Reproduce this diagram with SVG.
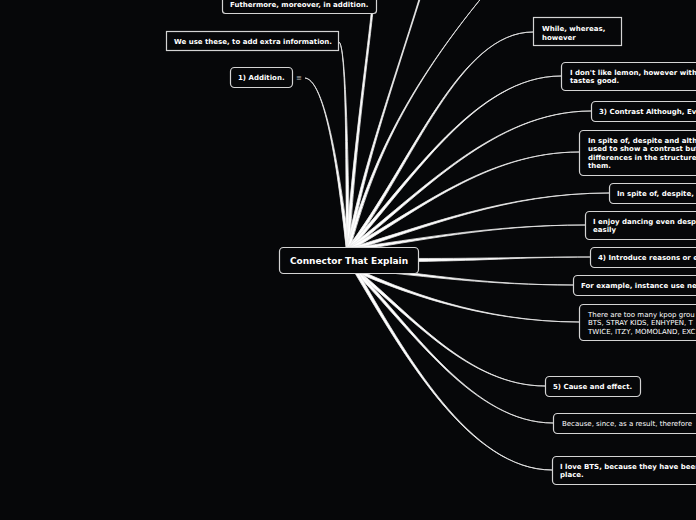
<svg xmlns="http://www.w3.org/2000/svg" width="696" height="520" viewBox="0 0 696 520">
<style>
.bg{fill:#060709}
.c{fill:#fff;stroke:#e8e8e8;stroke-width:0.8;stroke-linejoin:round}
.box{fill:#060709;stroke:#d4d4d4;stroke-width:1.2}
.t{font-family:"DejaVu Sans",Verdana,sans-serif;font-size:7px;font-weight:bold;fill:#fff}
.n{font-weight:normal}
.ct{font-family:"DejaVu Sans",Verdana,sans-serif;font-size:9px;font-weight:bold;fill:#fff}
.ic{font-family:"DejaVu Sans",sans-serif;font-size:7px;fill:#bbb}
</style>
<rect class="bg" x="0" y="0" width="696" height="520"/>
<g id="connectors">
<path class="c" d="M349.6 249.8 C343.1 199.9 328 80 305 78 C328 80 340.9 200.1 346.4 250.2 Z"/>
<path class="c" d="M349.6 250 C348.1 150 346 46 339 42 C346 46 345.9 150 346.4 250 Z"/>
<path class="c" d="M349.6 250.1 C353.1 170.1 367.7 60 372.8 13 L371.2 13 C366.3 60 350.9 169.9 346.4 249.9 Z"/>
<path class="c" d="M349.57 250.3 C366.1 160.21 395 80 427.57 -24.83 L426.43 -25.17 C395 80 363.9 159.79 346.43 249.7 Z"/>
<path class="c" d="M349.54 250.44 C373.08 165.3 405 85 505 -30 C405 85 370.92 164.7 346.46 249.56 Z"/>
<path class="c" d="M349.35 250.87 C414.94 161.61 459 32 533 32 C459 32 413.06 160.39 346.65 249.13 Z"/>
<path class="c" d="M349.18 251.08 C412.83 180.76 476 76 561 76 C476 76 411.17 179.24 346.82 248.92 Z"/>
<path class="c" d="M348.97 251.27 C421.68 194.89 494 111 591 111 C494 111 420.32 193.11 347.03 248.73 Z"/>
<path class="c" d="M348.79 251.39 C417.55 211.97 487 152 579 152 C487 152 416.45 210.03 347.21 248.61 Z"/>
<path class="c" d="M348.45 251.53 C426.32 228.07 505 193 609 193 C505 193 425.68 225.93 347.55 248.47 Z"/>
<path class="c" d="M348.22 251.58 C419.16 241.11 490 225 585 225 C490 225 418.84 238.89 347.78 248.42 Z"/>
<path class="c" d="M400 261.6 C480 261.2 520 257 590 257 C520 257 480 258.8 400 258.4 Z"/>
<path class="c" d="M359.82 269.59 C429.87 277.11 490 285 573 285 C490 285 430.13 274.89 360.18 266.41 Z"/>
<path class="c" d="M354.35 271.46 C399.55 291.02 480 322 579 322 C480 322 400.45 288.98 355.65 268.54 Z"/>
<path class="c" d="M354 271.24 C411.3 316.87 469 386 545 386 C469 386 412.7 315.13 356 268.76 Z"/>
<path class="c" d="M353.85 271.11 C413.2 331.78 474 423 553 423 C474 423 414.8 330.22 356.15 268.89 Z"/>
<path class="c" d="M353.71 270.95 C404.1 355.67 470 470 552 470 C470 470 405.9 354.33 356.29 269.05 Z"/>
</g>
<g id="center">
<rect class="box" x="279.5" y="247.5" width="139" height="26" rx="4"/>
<text class="ct" x="349" y="264.3" text-anchor="middle">Connector That Explain</text>
</g>
<g id="n-futhermore">
<rect class="box" x="222.5" y="-10" width="154" height="23.5" rx="3"/>
<text class="t" x="230" y="6.5">Futhermore, moreover, in addition.</text>
</g>
<g id="n-weuse">
<rect class="box" x="166.5" y="31.5" width="172" height="19"/>
<text class="t" x="174" y="44">We use these, to add extra information.</text>
</g>
<g id="n-addition">
<rect class="box" x="230.5" y="67.5" width="62" height="20" rx="4"/>
<text class="t" x="238" y="80">1) Addition.</text>
<text class="ic" x="296" y="80">≡</text>
</g>
<g id="n-while">
<rect class="box" x="533.5" y="17.5" width="88" height="28"/>
<text class="t" x="542" y="31">While, whereas,</text>
<text class="t" x="542" y="39.5">however</text>
</g>
<g id="n-lemon">
<rect class="box" x="561.5" y="62.5" width="150" height="28" rx="4"/>
<text class="t" x="570" y="74.5">I don't like lemon, however with</text>
<text class="t" x="570" y="83">tastes good.</text>
</g>
<g id="n-contrast">
<rect class="box" x="591.5" y="101.5" width="120" height="20" rx="4"/>
<text class="t" x="599" y="114">3) Contrast Although, Ev</text>
</g>
<g id="n-inspite">
<rect class="box" x="579.5" y="130.5" width="130" height="45" rx="4"/>
<text class="t" x="588" y="142.5">In spite of, despite and alth</text>
<text class="t" x="588" y="151">used to show a contrast but</text>
<text class="t" x="588" y="159.5">differences in the structures</text>
<text class="t" x="588" y="168">them.</text>
</g>
<g id="n-inspite2">
<rect class="box" x="609.5" y="183.5" width="100" height="20" rx="4"/>
<text class="t" x="617" y="195.5">In spite of, despite,</text>
</g>
<g id="n-dancing">
<rect class="box" x="585.5" y="211.5" width="120" height="28" rx="4"/>
<text class="t" x="593" y="223.5">I enjoy dancing even desp</text>
<text class="t" x="593" y="232">easily</text>
</g>
<g id="n-introduce">
<rect class="box" x="590.5" y="247.5" width="120" height="20" rx="4"/>
<text class="t" x="598" y="259.5">4) Introduce reasons or e</text>
</g>
<g id="n-example">
<rect class="box" x="573.5" y="275.5" width="140" height="20" rx="4"/>
<text class="t" x="581" y="287.5">For example, instance use ne</text>
</g>
<g id="n-kpop">
<rect class="box" x="579.5" y="304.5" width="130" height="36" rx="4"/>
<text class="t n" x="588" y="316.5">There are too many kpop grou</text>
<text class="t n" x="588" y="325">BTS, STRAY KIDS, ENHYPEN, T</text>
<text class="t n" x="588" y="333.5">TWICE, ITZY, MOMOLAND, EXC</text>
</g>
<g id="n-cause">
<rect class="box" x="545.5" y="376.5" width="95" height="20" rx="4"/>
<text class="t" x="553" y="388.5">5) Cause and effect.</text>
</g>
<g id="n-because">
<rect class="box" x="553.5" y="413.5" width="160" height="20" rx="4"/>
<text class="t n" x="562" y="425.5">Because, since, as a result, therefore</text>
</g>
<g id="n-bts">
<rect class="box" x="552.5" y="456.5" width="160" height="28" rx="4"/>
<text class="t" x="560" y="468.5">I love BTS, because they have been</text>
<text class="t" x="560" y="477">place.</text>
</g>
</svg>
